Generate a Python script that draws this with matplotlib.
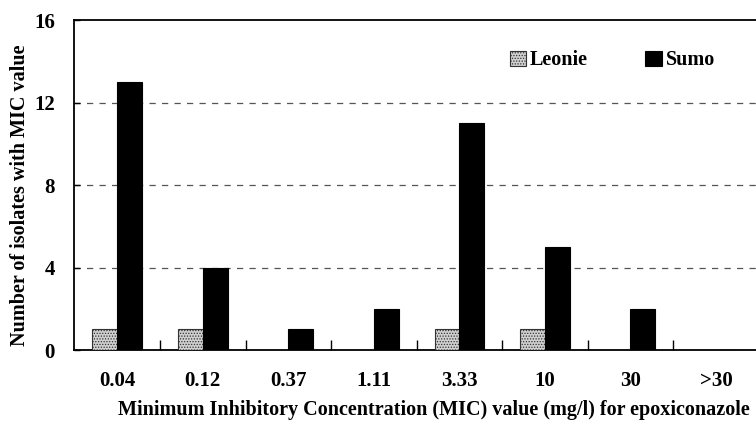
import matplotlib
matplotlib.use("Agg")
import matplotlib.pyplot as plt
import numpy as np

categories = ["0.04", "0.12", "0.37", "1.11", "3.33", "10", "30", ">30"]
leonie = [1, 1, 0, 0, 1, 1, 0, 0]
sumo = [13, 4, 1, 2, 11, 5, 2, 0]
y_ticks = [0, 4, 8, 12, 16]

plt.rcParams["font.family"] = ["Liberation Serif", "DejaVu Serif"]
plt.rcParams["font.weight"] = "bold"
plt.rcParams["hatch.color"] = "#8a8a8a"
plt.rcParams["hatch.linewidth"] = 0.6

fig = plt.figure(figsize=(7.56, 4.28), dpi=100)
ax = fig.add_axes([0.0985, 0.182, 0.905, 0.771])

x = np.arange(len(categories))
w = 0.29
ax.bar(x - w / 2, leonie, width=w, facecolor="#d0d0d0", edgecolor="#333333",
       linewidth=0.8, hatch="......", label="Leonie", zorder=3)
ax.bar(x + w / 2, sumo, width=w, facecolor="black", edgecolor="black",
       linewidth=0.8, label="Sumo", zorder=3)

ax.set_xlim(-0.5, len(categories) - 0.5)
ax.set_ylim(0, 16)

for yv in [4, 8, 12]:
    ax.axhline(yv, color="#555555", linestyle=(0, (5, 5)), linewidth=0.9, zorder=1)

ax.set_yticks(y_ticks)
ax.set_yticklabels([str(v) for v in y_ticks], fontsize=15, fontweight="bold")
ax.tick_params(axis="y", direction="in", length=4, width=1, pad=14)

# category labels centred, tick marks on the category boundaries
ax.set_xticks(x)
ax.set_xticklabels(categories, fontsize=15, fontweight="bold")
ax.tick_params(axis="x", which="major", length=0, pad=15)
ax.set_xticks(np.arange(0.5, len(categories) - 0.5, 1), minor=True)
ax.tick_params(axis="x", which="minor", direction="in", length=7, width=1)

for side in ["left", "bottom", "top", "right"]:
    ax.spines[side].set_linewidth(1.3)
    ax.spines[side].set_color("black")

ax.set_ylabel("Number of isolates with MIC value", fontsize=14.5, fontweight="bold")
ax.set_xlabel("Minimum Inhibitory Concentration (MIC) value (mg/l) for epoxiconazole",
              fontsize=14.5, fontweight="bold")
ax.xaxis.set_label_coords(0.525, -0.183)
ax.xaxis.label.set_verticalalignment("center")
ax.yaxis.set_label_coords(-0.080, 0.47)
ax.yaxis.label.set_verticalalignment("center")

leg = ax.legend(loc="upper left", bbox_to_anchor=(0.61, 0.963), ncol=2, frameon=False,
                prop={"size": 14.5, "weight": "bold"}, handlelength=0.8, handleheight=0.8,
                handletextpad=0.2, columnspacing=2.85)

fig.savefig("out.png", dpi=100)
